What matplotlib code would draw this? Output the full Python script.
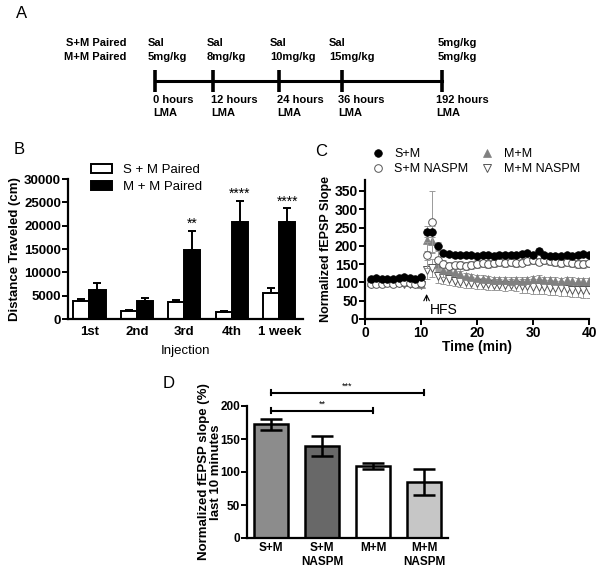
import numpy as np
import matplotlib.pyplot as plt
from matplotlib.patches import Patch
from matplotlib.lines import Line2D

plt.rcParams['font.family'] = ['Liberation Sans', 'DejaVu Sans']

# ---- panel A: dosing timeline
tl_top = ['Sal', 'Sal', 'Sal', 'Sal', '5mg/kg']
tl_dose = ['5mg/kg', '8mg/kg', '10mg/kg', '15mg/kg', '5mg/kg']
tl_hours = ['0 hours', '12 hours', '24 hours', '36 hours', '192 hours']
tl_groups = ['S+M Paired', 'M+M Paired']

# ---- panel B: locomotor activity
injections = ['1st', '2nd', '3rd', '4th', '1 week']
sm_dist = [3800, 1700, 3700, 1600, 5600]
sm_err = [500, 200, 350, 200, 1100]
mm_dist = [6300, 3800, 14700, 20700, 20800]
mm_err = [1400, 700, 4200, 4600, 2900]
b_stars = ['', '', '**', '****', '****']

# ---- panel C: fEPSP time course
minutes = np.arange(1, 41)
sm = [110, 112, 110, 109, 110, 113, 115, 112, 110, 116,
      238, 238, 200, 180, 177, 175, 174, 175, 174, 173,
      175, 174, 173, 176, 175, 176, 175, 178, 180, 176,
      187, 174, 172, 173, 172, 174, 173, 175, 177, 175]
sm_e = [5] * 10 + [15, 15, 10] + [7] * 27
sm_nas = [95, 97, 96, 98, 97, 99, 100, 98, 97, 98,
          175, 265, 160, 150, 145, 147, 148, 145, 148, 150,
          152, 150, 152, 155, 153, 155, 152, 154, 158, 160,
          157, 160, 158, 155, 153, 155, 152, 150, 150, 152]
sm_nas_e = [4] * 10 + [35, 85, 25] + [10] * 27
mm = [100, 101, 100, 102, 101, 103, 102, 100, 99, 97,
      215, 212, 150, 135, 133, 128, 122, 118, 115, 112,
      110, 108, 106, 107, 106, 105, 106, 105, 106, 108,
      110, 107, 106, 105, 104, 106, 105, 104, 103, 103]
mm_e = [4] * 10 + [30, 30, 20, 20] + [9] * 26
mm_nas = [97, 99, 98, 100, 99, 98, 97, 96, 95, 94,
          135, 140, 118, 112, 108, 105, 102, 100, 99, 98,
          97, 95, 94, 93, 92, 93, 92, 90, 90, 88,
          88, 87, 86, 85, 84, 82, 80, 80, 78, 78]
mm_nas_e = [4] * 10 + [25, 25, 20] + [15] * 14 + [20] * 13

# ---- panel D: last 10 minutes
d_groups = ['S+M', 'S+M\nNASPM', 'M+M', 'M+M\nNASPM']
d_mean = [172, 140, 109, 85]
d_err = [8, 15, 5, 20]
d_colors = ['#8c8c8c', '#686868', 'white', '#c6c6c6']

W, H = 600, 574
fig = plt.figure(figsize=(6, 5.74), dpi=100)


def box(l, t, r, b):
    return [l / W, 1 - b / H, (r - l) / W, (b - t) / H]


def style(ax):
    for s in ['top', 'right']:
        ax.spines[s].set_visible(False)
    for s in ['left', 'bottom']:
        ax.spines[s].set_linewidth(1.6)


# panel A drawn in pixel coordinates
axA = fig.add_axes([0, 0, 1, 1])
axA.set_xlim(0, W)
axA.set_ylim(H, 0)
axA.axis('off')
tl_x = [155, 213, 279, 342, 442]
top_x = [148, 207, 270, 329, 438]
bot_x = [153, 211, 277, 338, 436]
fa = dict(fontsize=8, fontweight='bold', va='center')
axA.plot([tl_x[0], tl_x[-1]], [80.5, 80.5], color='black', lw=2.2)
axA.vlines(tl_x, 70, 92, color='black', lw=2.6)
axA.text(66, 43, tl_groups[0], **fa)
axA.text(64, 57, tl_groups[1], **fa)
for i in range(5):
    axA.text(top_x[i], 43, tl_top[i], **fa)
    axA.text(top_x[i], 57, tl_dose[i], **fa)
    axA.text(bot_x[i], 100, tl_hours[i], **fa)
    axA.text(bot_x[i], 113, 'LMA', **fa)

# panel B
axB = fig.add_axes(box(68, 179, 303, 319))
x = np.arange(len(injections))
w = 0.34
ekw = dict(elinewidth=1.4, capthick=1.4)
axB.bar(x - w / 2, sm_dist, w, color='white', edgecolor='black', lw=1.4,
        yerr=[np.zeros(5), sm_err], capsize=3, error_kw=ekw)
axB.bar(x + w / 2, mm_dist, w, color='black', edgecolor='black', lw=1.4,
        yerr=[np.zeros(5), mm_err], capsize=3, error_kw=ekw)
for i in range(5):
    if b_stars[i]:
        axB.text(x[i] + w / 2, mm_dist[i] + mm_err[i] + 1500, b_stars[i],
                 ha='center', va='center', fontsize=10)
axB.set_xlim(-0.45, 4.5)
axB.set_ylim(0, 30000)
axB.set_xticks(x)
axB.set_xticklabels(injections, fontsize=9.5, fontweight='bold')
yt = np.arange(0, 30001, 5000)
axB.set_yticks(yt)
axB.set_yticklabels([str(v) for v in yt], fontsize=9.5, fontweight='bold')
axB.tick_params(axis='x', length=0, pad=5)
axB.tick_params(axis='y', length=4, width=1.4, pad=1)
axB.set_ylabel('Distance Traveled (cm)', fontsize=9.5, fontweight='bold', labelpad=2)
axB.set_xlabel('Injection', fontsize=9.5, labelpad=5)
style(axB)
axB.legend([Patch(facecolor='white', edgecolor='black', lw=1.4),
            Patch(facecolor='black', edgecolor='black', lw=1.4)],
           ['S + M Paired', 'M + M Paired'], loc='upper left',
           bbox_to_anchor=(91 / W, 1 - 164 / H), bbox_transform=fig.transFigure,
           frameon=False, fontsize=9.5, handlelength=1.6, handleheight=0.7,
           handletextpad=0.8, labelspacing=0.35, borderpad=0, borderaxespad=0)

# panel C
axC = fig.add_axes(box(365, 180, 589, 319))
series = [
    (mm_nas, mm_nas_e, dict(marker='v', mfc='white', mec='#555555', mew=0.7), 'M+M NASPM'),
    (mm, mm_e, dict(marker='^', mfc='#808080', mec='#808080', mew=0.5), 'M+M'),
    (sm_nas, sm_nas_e, dict(marker='o', mfc='white', mec='#555555', mew=0.7), 'S+M NASPM'),
    (sm, sm_e, dict(marker='o', mfc='black', mec='black', mew=0.5), 'S+M'),
]
handles = {}
for vals, err, mk, lab in series:
    axC.errorbar(minutes, vals, yerr=err, fmt='none', ecolor='#9a9a9a',
                 elinewidth=0.7, capsize=2, capthick=0.7)
    handles[lab] = axC.plot(minutes, vals, ls='none', ms=5.5, **mk)[0]
axC.set_xlim(0, 40)
axC.set_ylim(0, 380)
axC.set_xticks([0, 10, 20, 30, 40])
axC.set_xticklabels(['0', '10', '20', '30', '40'], fontsize=10, fontweight='bold')
ytc = np.arange(0, 351, 50)
axC.set_yticks(ytc)
axC.set_yticklabels([str(v) for v in ytc], fontsize=10, fontweight='bold')
axC.tick_params(length=4, width=1.4, pad=1)
axC.set_xlabel('Time (min)', fontsize=10, fontweight='bold', labelpad=0)
axC.set_ylabel('Normalized fEPSP Slope', fontsize=9, fontweight='bold', labelpad=2)
style(axC)
axC.annotate('', xy=(11, 76), xytext=(11, 42),
             arrowprops=dict(arrowstyle='->', lw=0.8, color='black'))
axC.text(11.5, 24, 'HFS', fontsize=10, va='center', ha='left')
order = ['S+M', 'S+M NASPM', 'M+M', 'M+M NASPM']
axC.legend([handles[k] for k in order], order, ncol=2, loc='upper left',
           bbox_to_anchor=(372 / W, 1 - 148 / H), bbox_transform=fig.transFigure,
           frameon=False, fontsize=9, handlelength=1, handletextpad=0.8,
           labelspacing=0.25, columnspacing=1.0, borderpad=0, borderaxespad=0,
           numpoints=1)

# panel D
axD = fig.add_axes(box(247, 406, 448, 538))
xd = np.arange(len(d_groups))
axD.bar(xd, d_mean, 0.66, color=d_colors, edgecolor='black', lw=1.8,
        yerr=d_err, capsize=8, error_kw=dict(elinewidth=1.8, capthick=1.8))
axD.set_xlim(-0.47, 3.47)
axD.set_ylim(0, 200)
axD.set_xticks(xd)
axD.set_xticklabels(d_groups, fontsize=8.5, fontweight='bold')
ytd = np.arange(0, 201, 50)
axD.set_yticks(ytd)
axD.set_yticklabels([str(v) for v in ytd], fontsize=8.5, fontweight='bold')
axD.tick_params(axis='x', length=0, pad=3)
axD.tick_params(axis='y', length=4, width=1.4, pad=1)
axD.set_ylabel('Normalized fEPSP slope (%)\nlast 10 minutes', fontsize=9.5,
               fontweight='bold', labelpad=-1, linespacing=1.0)
style(axD)
for (a, b, yv, s) in [(0, 2, 193, '**'), (0, 3, 220, '***')]:
    axD.plot([a, b], [yv, yv], color='black', lw=1.5, clip_on=False)
    axD.plot([a, a], [yv - 4, yv + 4], color='black', lw=1.5, clip_on=False)
    axD.plot([b, b], [yv - 4, yv + 4], color='black', lw=1.5, clip_on=False)
    axD.text((a + b) / 2, yv + 3, s, fontsize=6.5, ha='center', va='bottom', clip_on=False)

# panel letters
for lt, px, py in [('A', 22, 14), ('B', 19, 149), ('C', 321, 152), ('D', 169, 384)]:
    fig.text(px / W, 1 - py / H, lt, fontsize=12, ha='center', va='center')

fig.savefig('out.png', dpi=100)
